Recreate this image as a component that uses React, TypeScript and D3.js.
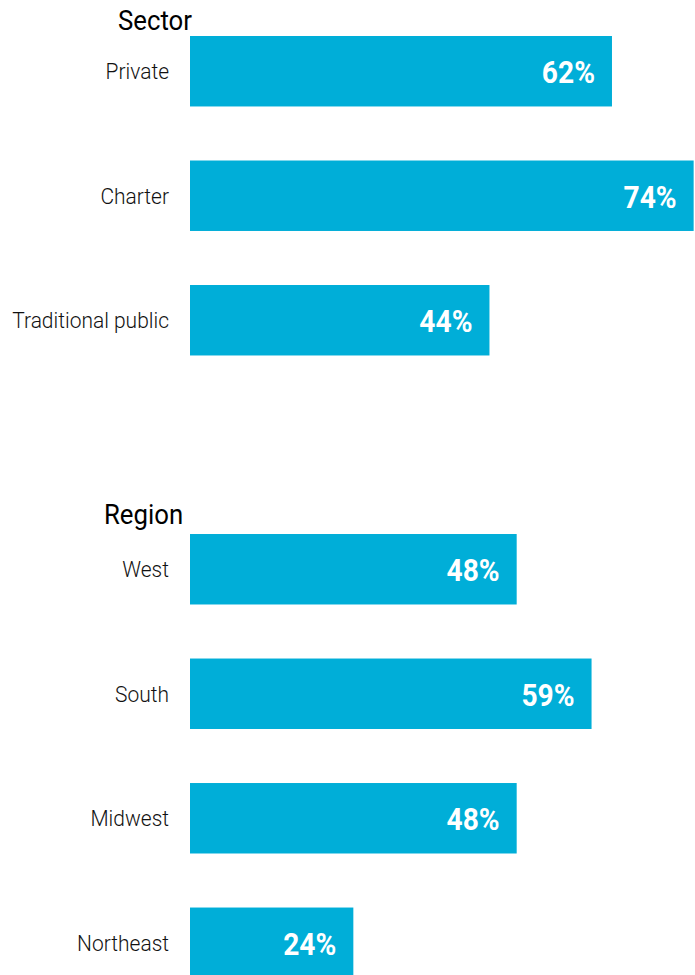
import { scaleBand, scaleLinear } from 'd3';

const sectorCategories = ['Private', 'Charter', 'Traditional public'];
const sectorValues = [62, 74, 44];
const regionCategories = ['West', 'South', 'Midwest', 'Northeast'];
const regionValues = [48, 59, 48, 24];
const groupTitles = ['Sector', 'Region'];

const width = 695;
const height = 975;
const barLeft = 190;
const condensed = 0.88; // fake Roboto Condensed
const fill = '#00aed8';

export default function App() {
  // one row per bar, with an empty row between the two groups
  const rows = [...sectorCategories, '__gap', ...regionCategories];
  const values = [...sectorValues, 0, ...regionValues];

  const y = scaleBand()
    .domain(rows)
    .range([36, 978])
    .paddingInner(0.434)
    .paddingOuter(0);

  const x = scaleLinear().domain([0, 100]).range([barLeft, barLeft + 680.6]);

  const bars = rows
    .map((name, i) => ({ name, value: values[i] }))
    .filter((d) => d.name !== '__gap');

  const titles = [
    { text: groupTitles[0], x: 118, y: y(sectorCategories[0])! - 6 },
    { text: groupTitles[1], x: 104, y: y(regionCategories[0])! - 10 },
  ];

  const bw = y.bandwidth();

  return (
    <svg
      width={width}
      height={height}
      style={{ position: 'absolute', left: 0, top: 0, display: 'block' }}
      fontFamily="Roboto, sans-serif"
    >
      {titles.map((t) => (
        <text
          key={t.text}
          transform={`translate(${t.x},${t.y}) scale(0.92,1)`}
          fontSize={28}
          fill="#000"
        >
          {t.text}
        </text>
      ))}
      {bars.map((d) => {
        const top = y(d.name)!;
        const mid = top + bw / 2;
        return (
          <g key={d.name}>
            <rect x={x(0)} y={top} width={x(d.value) - x(0)} height={bw} fill={fill} />
            <text
              transform={`translate(${barLeft - 21},${mid + 8}) scale(0.92,1)`}
              textAnchor="end"
              fontSize={22.8}
              fontWeight={300}
              fill="#111"
            >
              {d.name}
            </text>
            <text
              transform={`translate(${x(d.value) - 17},${mid + 12}) scale(${condensed},1)`}
              textAnchor="end"
              fontSize={32}
              fontWeight={700}
              fill="#fff"
            >
              {d.value}%
            </text>
          </g>
        );
      })}
    </svg>
  );
}
